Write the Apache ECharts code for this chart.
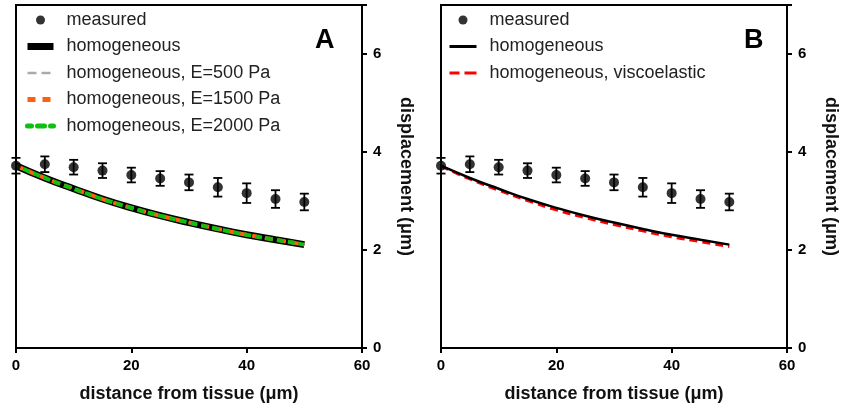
<!DOCTYPE html>
<html><head><meta charset="utf-8">
<script src="https://cdn.jsdelivr.net/npm/echarts@6/dist/echarts.min.js"></script>
<style>html,body{margin:0;padding:0;background:#fff}#c{width:841px;height:409px}</style>
</head><body><div id="c"></div>
<script>
const xMeasured = [0,5,10,15,20,25,30,35,40,45,50];
const measured = [3.72,3.75,3.69,3.62,3.53,3.46,3.38,3.28,3.16,3.04,2.98];
const measuredErr = [0.16,0.16,0.15,0.15,0.15,0.15,0.16,0.19,0.20,0.18,0.17];
const xModel = [0,5,10,15,20,25,30,35,40,45,50];
const homogeneous = [3.72,3.47,3.25,3.04,2.86,2.70,2.56,2.43,2.31,2.21,2.11];
const homE500 = [3.72,3.47,3.25,3.04,2.86,2.70,2.56,2.43,2.31,2.21,2.11];
const homE1500 = [3.72,3.47,3.25,3.04,2.86,2.70,2.56,2.43,2.31,2.21,2.11];
const homE2000 = [3.72,3.47,3.25,3.04,2.86,2.70,2.56,2.43,2.31,2.21,2.11];
const homViscoelastic = [3.71,3.45,3.22,3.01,2.82,2.66,2.52,2.39,2.27,2.17,2.07];
const xTicks = [0,20,40,60];
const yTicks = [0,2,4,6];

const F = 'Liberation Sans, Arial, sans-serif';
const pair = (xs, ys) => xs.map((x,i)=>[x, ys[i]]);
const errData = xMeasured.map((x,i)=>[x, measured[i]-measuredErr[i], measured[i]+measuredErr[i]]);

function errSeries(idx){
  return {type:'custom', xAxisIndex:idx, yAxisIndex:idx, z:5, data:errData,
    renderItem:(params, api)=>{
      const lo = api.coord([api.value(0), api.value(1)]);
      const hi = api.coord([api.value(0), api.value(2)]);
      const w = 4.5;
      const st = {stroke:'#000', lineWidth:1.8};
      return {type:'group', children:[
        {type:'line', shape:{x1:lo[0],y1:lo[1],x2:hi[0],y2:hi[1]}, style:st},
        {type:'line', shape:{x1:lo[0]-w,y1:lo[1],x2:lo[0]+w,y2:lo[1]}, style:st},
        {type:'line', shape:{x1:hi[0]-w,y1:hi[1],x2:hi[0]+w,y2:hi[1]}, style:st}
      ]};
    }};
}

function xAxis(idx){
  return {type:'value', gridIndex:idx, min:0, max:60, interval:20,
    axisLine:{show:true, onZero:false, lineStyle:{color:'#000', width:2}},
    axisTick:{show:true, length:5, lineStyle:{color:'#000', width:2}},
    axisLabel:{color:'#000', fontFamily:F, fontWeight:'bold', fontSize:15, margin:10,
      formatter:v=> xTicks.includes(v) ? String(v) : ''},
    splitLine:{show:false},
    name:'distance from tissue (μm)', nameLocation:'middle', nameGap:37,
    nameTextStyle:{color:'#111', fontFamily:F, fontWeight:'bold', fontSize:18}};
}
function yAxis(idx){
  return {type:'value', gridIndex:idx, position:'right', min:0, max:7, interval:2,
    axisLine:{show:true, onZero:false, lineStyle:{color:'#000', width:2}},
    axisTick:{show:true, length:5, lineStyle:{color:'#000', width:2}},
    axisLabel:{color:'#000', fontFamily:F, fontWeight:'bold', fontSize:15, margin:11,
      formatter:v=> yTicks.includes(v) ? String(v) : ''},
    splitLine:{show:false},
    name:'displacement (μm)', nameLocation:'middle', nameGap:35, nameRotate:-90,
    nameTextStyle:{color:'#111', fontFamily:F, fontWeight:'bold', fontSize:18}};
}

const legendText = {color:'#222', fontFamily:F, fontSize:18, padding:[0,0,0,8]};
const noSym = {color:'rgba(0,0,0,0)', borderWidth:0, opacity:0};
const chart = echarts.init(document.getElementById('c'));
chart.setOption({
  animation:false,
  grid:[
    {left:16, right:479, top:5, bottom:61, show:true, borderColor:'#000', borderWidth:2},
    {left:441, right:54, top:5, bottom:61, show:true, borderColor:'#000', borderWidth:2}
  ],
  xAxis:[xAxis(0), xAxis(1)],
  yAxis:[yAxis(0), yAxis(1)],
  legend:[
    {orient:'vertical', left:19, top:6, itemWidth:26, itemHeight:9, itemGap:8.5, textStyle:legendText,
      data:[{name:'measured', itemStyle:{color:'#000'}},
            {name:'homogeneous', itemStyle:noSym, lineStyle:{color:'#000', width:7, type:'solid'}},
            {name:'homogeneous, E=500 Pa', itemStyle:noSym, lineStyle:{color:'#aaaaaa', width:2.5, type:[9,5]}},
            {name:'homogeneous, E=1500 Pa', itemStyle:noSym, lineStyle:{color:'#ff6010', width:5, type:[8,7]}},
            {name:'homogeneous, E=2000 Pa', itemStyle:noSym, lineStyle:{color:'#10c010', width:5, type:[7,6], cap:'round'}}],
      selectedMode:false},
    {orient:'vertical', left:443, top:6, itemWidth:27, itemHeight:9, itemGap:8.5, textStyle:legendText,
      data:[{name:'measured ', itemStyle:{color:'#000'}},
            {name:'homogeneous ', itemStyle:noSym, lineStyle:{color:'#000', width:3, type:'solid'}},
            {name:'homogeneous, viscoelastic', itemStyle:noSym, lineStyle:{color:'#ff0000', width:3, type:[13,5]}}],
      selectedMode:false}
  ],
  graphic:[
    {type:'text', left:315, top:27, style:{text:'A', fontFamily:F, fontWeight:'bold', fontSize:27, fill:'#000'}},
    {type:'text', left:744, top:27, style:{text:'B', fontFamily:F, fontWeight:'bold', fontSize:27, fill:'#000'}}
  ],
  series:[
    {name:'homogeneous', type:'line', xAxisIndex:0, yAxisIndex:0, data:pair(xModel, homogeneous), smooth:true, symbol:'none',
      lineStyle:{color:'#000', width:7}, itemStyle:{color:'#000'}, z:2},
    {name:'homogeneous, E=500 Pa', type:'line', xAxisIndex:0, yAxisIndex:0, data:pair(xModel, homE500), smooth:true, symbol:'none',
      lineStyle:{color:'#aaaaaa', width:2, type:[8,5]}, itemStyle:{color:'#aaaaaa'}, z:2},
    {name:'homogeneous, E=1500 Pa', type:'line', xAxisIndex:0, yAxisIndex:0, data:pair(xModel, homE1500), smooth:true, symbol:'none',
      lineStyle:{color:'#ff6010', width:4, type:[8,5]}, itemStyle:{color:'#ff6010'}, z:3},
    {name:'homogeneous, E=2000 Pa', type:'line', xAxisIndex:0, yAxisIndex:0, data:pair(xModel, homE2000), smooth:true, symbol:'none',
      lineStyle:{color:'#10c010', width:4, type:[7,4], dashOffset:3}, itemStyle:{color:'#10c010'}, z:4},
    {name:'measured', type:'scatter', xAxisIndex:0, yAxisIndex:0, data:pair(xMeasured, measured), symbol:'circle', symbolSize:10,
      itemStyle:{color:'#000'}, z:6},
    errSeries(0),
    {name:'homogeneous ', type:'line', xAxisIndex:1, yAxisIndex:1, data:pair(xModel, homogeneous), smooth:true, symbol:'none',
      lineStyle:{color:'#000', width:2.5}, itemStyle:{color:'#000'}, z:3},
    {name:'homogeneous, viscoelastic', type:'line', xAxisIndex:1, yAxisIndex:1, data:pair(xModel, homViscoelastic), smooth:true, symbol:'none',
      lineStyle:{color:'#ff0000', width:3, type:[8,5]}, itemStyle:{color:'#ff0000'}, z:2},
    {name:'measured ', type:'scatter', xAxisIndex:1, yAxisIndex:1, data:pair(xMeasured, measured), symbol:'circle', symbolSize:10,
      itemStyle:{color:'#000'}, z:6},
    errSeries(1)
  ]
});
</script></body></html>
